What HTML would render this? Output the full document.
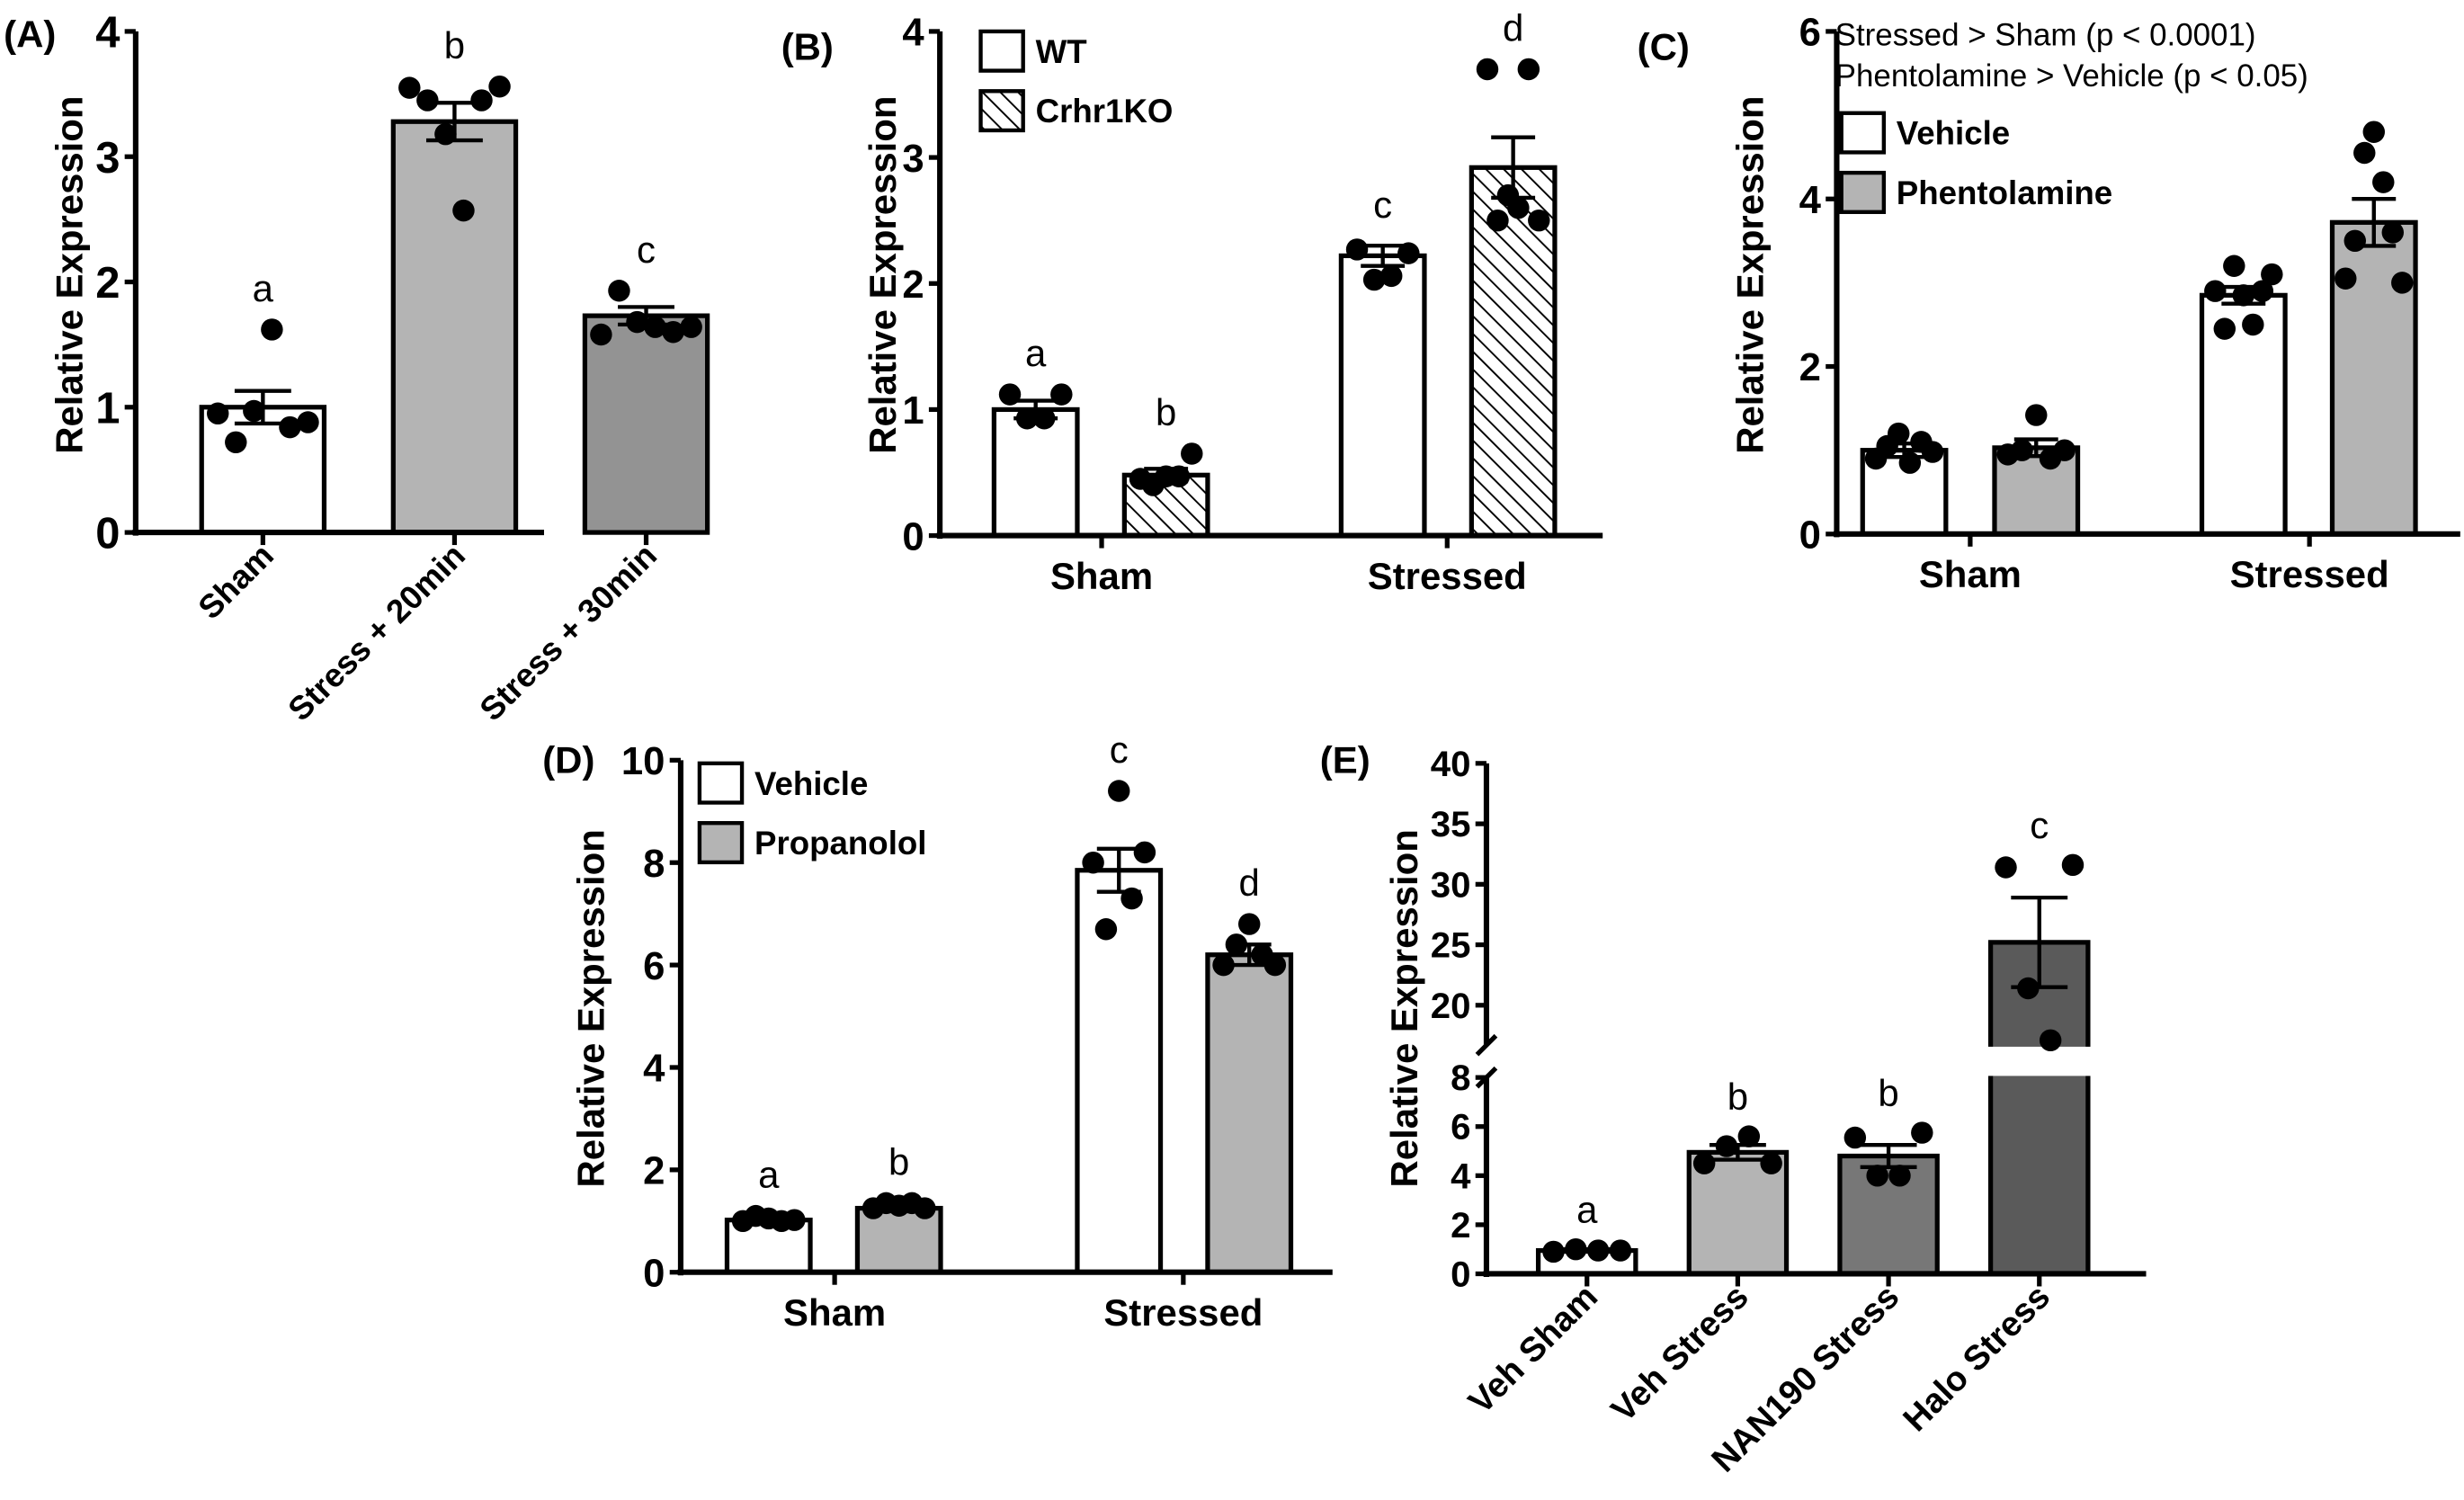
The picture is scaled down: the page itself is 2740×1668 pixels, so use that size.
<!DOCTYPE html>
<html><head><meta charset="utf-8"><style>
html,body{margin:0;padding:0;background:#fff;}
svg{display:block;font-family:"Liberation Sans",Arial,sans-serif;}
</style></head><body>
<svg id="fig" width="2740" height="1668" viewBox="0 0 1568 955" xmlns="http://www.w3.org/2000/svg">
<defs>
<pattern id="hatch" patternUnits="userSpaceOnUse" width="8" height="8" patternTransform="rotate(-45)">
<rect width="8" height="8" fill="#fff"/><line x1="0" y1="0" x2="0" y2="8" stroke="#000" stroke-width="2.2"/>
</pattern>
</defs>
</svg>
<script>
// ---- Panel A data ----
const aCategories = ['Sham', 'Stress + 20min', 'Stress + 30min'];
const aMeans = [1.0, 3.28, 1.73];
const aErrs = [0.13, 0.15, 0.07];
const aDots = [[0.95, 0.72, 0.97, 1.62, 0.84, 0.88], [3.55, 3.45, 3.18, 2.57, 3.45, 3.56], [1.58, 1.93, 1.68, 1.64, 1.60, 1.64]];
const aLetters = ['a', 'b', 'c'];
const aTicks = [0, 1, 2, 3, 4];
// ---- Panel B data ----
const bGroups = ['Sham', 'Stressed'];
const bSeries = ['WT', 'Crhr1KO'];
const bMeans = [1.0, 0.48, 2.22, 2.92];
const bErrs = [0.07, 0.05, 0.08, 0.24];
const bDots = [[1.12, 0.93, 0.93, 1.12], [0.45, 0.40, 0.47, 0.47, 0.65], [2.27, 2.03, 2.06, 2.24], [3.7, 2.5, 2.7, 2.6, 3.7, 2.5]];
const bLetters = ['a', 'b', 'c', 'd'];
const bTicks = [0, 1, 2, 3, 4];
// ---- Panel C data ----
const cGroups = ['Sham', 'Stressed'];
const cSeries = ['Vehicle', 'Phentolamine'];
const cMeans = [1.0, 1.03, 2.85, 3.72];
const cErrs = [0.08, 0.1, 0.1, 0.28];
const cDots = [[0.9, 1.05, 1.2, 0.85, 1.1, 0.98], [0.95, 1.0, 1.42, 0.9, 1.0], [2.9, 2.45, 3.2, 2.85, 2.5, 2.9, 3.1], [3.05, 3.5, 4.55, 4.8, 4.2, 3.6, 3.0]];
const cTicks = [0, 2, 4, 6];
// ---- Panel D data ----
const dGroups = ['Sham', 'Stressed'];
const dSeries = ['Vehicle', 'Propanolol'];
const dMeans = [1.02, 1.25, 7.85, 6.2];
const dErrs = [0.05, 0.06, 0.42, 0.2];
const dDots = [[1.0, 1.1, 1.05, 1.0, 1.02], [1.25, 1.35, 1.3, 1.35, 1.25], [8.0, 6.7, 9.4, 7.3, 8.2], [6.0, 6.4, 6.8, 6.2, 6.0]];
const dLetters = ['a', 'b', 'c', 'd'];
const dTicks = [0, 2, 4, 6, 8, 10];
// ---- Panel E data ----
const eCategories = ['Veh Sham', 'Veh Stress', 'NAN190 Stress', 'Halo Stress'];
const eMeans = [0.95, 4.95, 4.8, 25.2];
const eErrs = [0.05, 0.3, 0.45, 3.7];
const eDots = [[0.9, 1.0, 0.95, 0.95], [4.5, 5.2, 5.6, 4.5], [5.55, 4.0, 4.0, 5.75], [31.4, 21.4, 17.1, 31.6]];
const eLetters = ['a', 'b', 'b', 'c'];
const eTicksLow = [0, 2, 4, 6, 8];
const eTicksHigh = [20, 25, 30, 35, 40];

const svg = document.getElementById('fig');
const NS = 'http://www.w3.org/2000/svg';
function el(tag, attrs, parent, text) {
  const e = document.createElementNS(NS, tag);
  for (const k in attrs) e.setAttribute(k, attrs[k]);
  if (text !== undefined) e.textContent = text;
  (parent || svg).appendChild(e);
  return e;
}
function group(name) {
  const g = el('g', {});
  
  
  return g;
}
function linear(d0, d1, r0, r1) { return v => r0 + (v - d0) / (d1 - d0) * (r1 - r0); }

function yAxis(g, x, yTop, yBot, ticks, ys, fs) {
  const ax = el('line', {x1: x, y1: yTop, x2: x, y2: yBot + 2, stroke: '#000', 'stroke-width': 3.5}, g);
  
  
  ticks.forEach(t => {
    el('line', {x1: x - 7, y1: ys(t), x2: x, y2: ys(t), stroke: '#000', 'stroke-width': 3}, g);
    const tl = el('text', {x: x - 10, y: ys(t) + fs * 0.36, 'text-anchor': 'end', 'font-size': fs, 'font-weight': 'bold'}, g, String(t));
    
    
  });
}
function yTitle(g, x, yc) {
  const t = el('text', {x: x, y: yc, transform: `rotate(-90 ${x} ${yc})`, 'text-anchor': 'middle', 'font-size': 24, 'font-weight': 'bold'}, g, 'Relative Expression');
  
  
}
function xAxis(g, x0, x1, y, tickXs) {
  const ax = el('line', {x1: x0, y1: y, x2: x1, y2: y, stroke: '#000', 'stroke-width': 3.5}, g);
  
  
  tickXs.forEach(tx => el('line', {x1: tx, y1: y, x2: tx, y2: y + 8, stroke: '#000', 'stroke-width': 3}, g));
}
function bar(g, cx, w, ys, v, fill, name, yBase) {
  const top = ys(v);
  const r = el('rect', {x: cx - w / 2, y: top, width: w, height: yBase - top, fill: fill, stroke: '#000', 'stroke-width': 3}, g);
  
  
  return r;
}
function errBar(g, cx, ys, m, e, cap) {
  el('line', {x1: cx, y1: ys(m - e), x2: cx, y2: ys(m + e), stroke: '#000', 'stroke-width': 2.5}, g);
  el('line', {x1: cx - cap, y1: ys(m + e), x2: cx + cap, y2: ys(m + e), stroke: '#000', 'stroke-width': 2.5}, g);
  el('line', {x1: cx - cap, y1: ys(m - e), x2: cx + cap, y2: ys(m - e), stroke: '#000', 'stroke-width': 2.5}, g);
}
function dots(g, cx, w, ys, vals) {
  const n = vals.length;
  const sp = n > 1 ? Math.min(24, (w * 0.82) / (n - 1)) : 0;
  vals.forEach((v, i) => {
    const c = el('circle', {cx: cx + (i - (n - 1) / 2) * sp, cy: ys(v), r: 7, fill: '#000'}, g);
    
    
  });
}
function letter(g, cx, y, s) {
  const t = el('text', {x: cx, y: y, 'text-anchor': 'middle', 'font-size': 24}, g, s);
  
  
}
function panelLabel(x, y, s) {
  const t = el('text', {x: x, y: y, 'font-size': 24, 'font-weight': 'bold'}, svg, s);
  
  
}
function legendEntry(g, x, y, fill, label) {
  const r = el('rect', {x: x, y: y, width: 27, height: 25, fill: fill, stroke: '#000', 'stroke-width': 2.5}, g);
  
  
  const t = el('text', {x: x + 35, y: y + 20, 'font-size': 21, 'font-weight': 'bold'}, g, label);
  
  
}
function rotLabel(g, tx, y, s, fs) {
  const t = el('text', {x: tx + 8, y: y + 16, transform: `rotate(-45 ${tx + 8} ${y + 16})`, 'text-anchor': 'end', 'font-size': fs, 'font-weight': 'bold'}, g, s);
  
  
}
function groupLabel(g, x, y, s) {
  const t = el('text', {x: x, y: y, 'text-anchor': 'middle', 'font-size': 24, 'font-weight': 'bold'}, g, s);
  
  
}

// ---------- Panel A ----------
(function () {
  const g = group('panel-a');
  panelLabel(2, 30, '(A)');
  const ys = linear(0, 4, 339, 20);
  const xs = i => 167 + i * 122;
  const fills = ['#ffffff', '#b4b4b4', '#939393'];
  yAxis(g, 86, 20, 339, aTicks, ys, 28);
  yTitle(g, 52, 175);
  aMeans.forEach((m, i) => {
    bar(g, xs(i), 78, ys, m, fills[i], 'bar-' + aCategories[i].toLowerCase().replace(/[^a-z0-9]+/g, '-'), 339);
    errBar(g, xs(i), ys, m, aErrs[i], 18);
    dots(g, xs(i), 70, ys, aDots[i]);
    letter(g, xs(i), ys(Math.max(m + aErrs[i], ...aDots[i])) - 18, aLetters[i]);
  });
  xAxis(g, 84, 346, 339, aMeans.map((m, i) => xs(i)));
  aCategories.forEach((c, i) => rotLabel(g, xs(i), 339, c, 21));
})();

// ---------- Panel B ----------
(function () {
  const g = group('panel-b');
  panelLabel(497, 38, '(B)');
  const ys = linear(0, 4, 341, 20);
  const xs = [659, 742, 880, 963];
  const fills = ['#ffffff', 'url(#hatch)'];
  yAxis(g, 598, 20, 341, bTicks, ys, 25);
  yTitle(g, 570, 175);
  bMeans.forEach((m, i) => {
    bar(g, xs[i], 53, ys, m, fills[i % 2], 'bar-' + bSeries[i % 2].toLowerCase() + '-' + bGroups[Math.floor(i / 2)].toLowerCase(), 341);
    errBar(g, xs[i], ys, m, bErrs[i], 14);
    dots(g, xs[i], 40, ys, bDots[i]);
    letter(g, xs[i], ys(Math.max(m + bErrs[i], ...bDots[i])) - 18, bLetters[i]);
  });
  xAxis(g, 596, 1020, 341, [701, 921]);
  groupLabel(g, 701, 375, bGroups[0]);
  groupLabel(g, 921, 375, bGroups[1]);
  legendEntry(g, 624, 20, '#ffffff', bSeries[0]);
  legendEntry(g, 624, 58, 'url(#hatch)', bSeries[1]);
})();

// ---------- Panel C ----------
(function () {
  const g = group('panel-c');
  panelLabel(1042, 38, '(C)');
  const ys = linear(0, 6, 340, 20);
  const xs = [1212, 1296, 1428, 1511];
  const fills = ['#ffffff', '#b4b4b4'];
  yAxis(g, 1169, 20, 340, cTicks, ys, 25);
  yTitle(g, 1122, 175);
  cMeans.forEach((m, i) => {
    bar(g, xs[i], 53, ys, m, fills[i % 2], 'bar-' + cSeries[i % 2].toLowerCase() + '-' + cGroups[Math.floor(i / 2)].toLowerCase(), 340);
    errBar(g, xs[i], ys, m, cErrs[i], 14);
    dots(g, xs[i], 44, ys, cDots[i]);
  });
  xAxis(g, 1167, 1566, 340, [1254, 1470]);
  groupLabel(g, 1254, 374, cGroups[0]);
  groupLabel(g, 1470, 374, cGroups[1]);
  const t1 = el('text', {x: 1168, y: 29, 'font-size': 20}, g, 'Stressed > Sham (p < 0.0001)');
  
  
  const t2 = el('text', {x: 1168, y: 55, 'font-size': 20}, g, 'Phentolamine > Vehicle (p < 0.05)');
  
  
  legendEntry(g, 1172, 72, '#ffffff', cSeries[0]);
  legendEntry(g, 1172, 110, '#b4b4b4', cSeries[1]);
})();

// ---------- Panel D ----------
(function () {
  const g = group('panel-d');
  panelLabel(345, 492, '(D)');
  const ys = linear(0, 10, 810, 484);
  const xs = [489, 572, 712, 795];
  const fills = ['#ffffff', '#b4b4b4'];
  yAxis(g, 433, 484, 810, dTicks, ys, 25);
  yTitle(g, 384, 642);
  dMeans.forEach((m, i) => {
    bar(g, xs[i], 53, ys, m, fills[i % 2], 'bar-' + dSeries[i % 2].toLowerCase() + '-' + dGroups[Math.floor(i / 2)].toLowerCase(), 810);
    errBar(g, xs[i], ys, m, dErrs[i], 14);
    dots(g, xs[i], 40, ys, dDots[i]);
    letter(g, xs[i], ys(Math.max(m + dErrs[i], ...dDots[i])) - 18, dLetters[i]);
  });
  xAxis(g, 431, 848, 810, [531, 753]);
  groupLabel(g, 531, 844, dGroups[0]);
  groupLabel(g, 753, 844, dGroups[1]);
  legendEntry(g, 445, 486, '#ffffff', dSeries[0]);
  legendEntry(g, 445, 524, '#b4b4b4', dSeries[1]);
})();

// ---------- Panel E ----------
(function () {
  const g = group('panel-e');
  panelLabel(840, 492, '(E)');
  const yLow = linear(0, 8, 811, 686);
  const yHigh = linear(20, 40, 640, 486);
  const brk = 16.7; // start of upper segment
  const yBrk = yHigh(brk);
  const ys = v => v <= 8 ? yLow(v) : (v >= brk ? yHigh(v) : yBrk);
  const xs = i => 1010 + i * 96;
  const fills = ['#ffffff', '#b4b4b4', '#777777', '#5a5a5a'];
  el('line', {x1: 946, y1: 686, x2: 946, y2: 813, stroke: '#000', 'stroke-width': 3.5}, g);
  el('line', {x1: 946, y1: 486, x2: 946, y2: yBrk, stroke: '#000', 'stroke-width': 3.5}, g);
  el('line', {x1: 940, y1: yBrk + 6, x2: 952, y2: yBrk - 6, stroke: '#000', 'stroke-width': 3}, g);
  el('line', {x1: 940, y1: 692, x2: 952, y2: 680, stroke: '#000', 'stroke-width': 3}, g);
  eTicksLow.forEach(t => {
    el('line', {x1: 939, y1: yLow(t), x2: 946, y2: yLow(t), stroke: '#000', 'stroke-width': 3}, g);
    const tl = el('text', {x: 936, y: yLow(t) + 8, 'text-anchor': 'end', 'font-size': 23, 'font-weight': 'bold'}, g, String(t));
    
    
  });
  eTicksHigh.forEach(t => {
    el('line', {x1: 939, y1: yHigh(t), x2: 946, y2: yHigh(t), stroke: '#000', 'stroke-width': 3}, g);
    const tl = el('text', {x: 936, y: yHigh(t) + 8, 'text-anchor': 'end', 'font-size': 23, 'font-weight': 'bold'}, g, String(t));
    
    
  });
  yTitle(g, 902, 642);
  eMeans.forEach((m, i) => {
    bar(g, xs(i), 62, ys, m, fills[i], 'bar-' + eCategories[i].toLowerCase().replace(/[^a-z0-9]+/g, '-'), 811);
  });
  eMeans.forEach((m, i) => {
    if (m > brk) el('rect', {x: xs(i) - 36, y: yBrk + 1, width: 72, height: 686 - yBrk - 2, fill: '#fff'}, g);
  });
  eMeans.forEach((m, i) => {
    errBar(g, xs(i), ys, m, eErrs[i], 18);
    dots(g, xs(i), 52, ys, eDots[i]);
    letter(g, xs(i), ys(Math.max(m + eErrs[i], ...eDots[i])) - 17, eLetters[i]);
  });
  xAxis(g, 944, 1366, 811, eMeans.map((m, i) => xs(i)));
  eCategories.forEach((c, i) => rotLabel(g, xs(i), 811, c, 22));
})();
</script>
</body></html>
